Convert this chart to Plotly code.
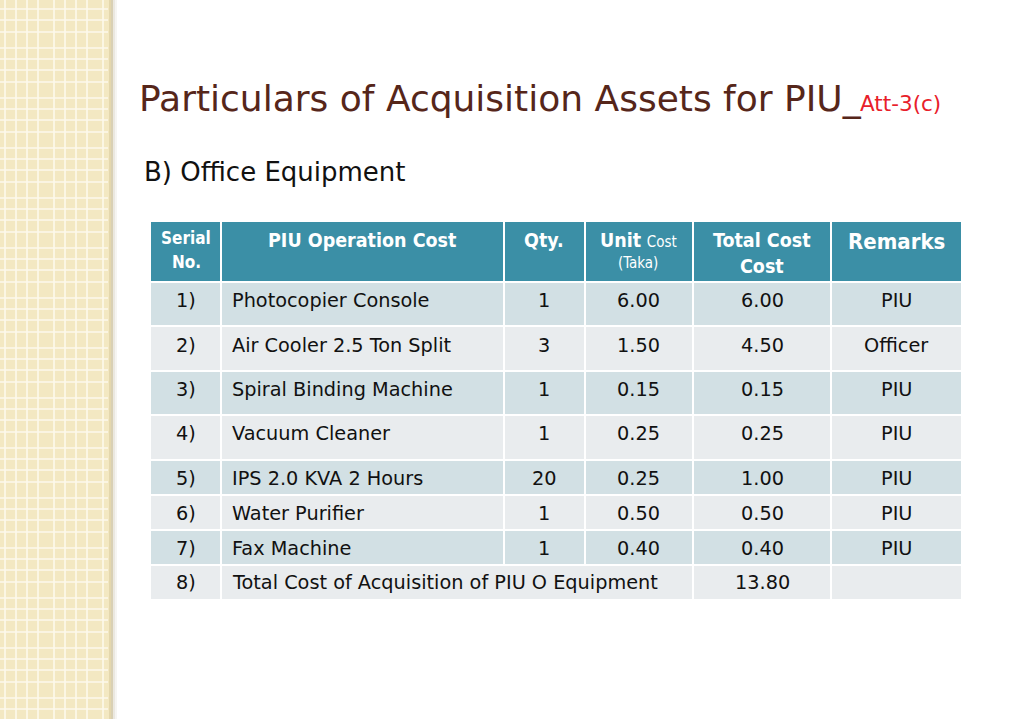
import plotly.graph_objects as go

# ---------------- data ----------------
title_main = "Particulars of Acquisition Assets for PIU_"
title_suffix = "Att-3(c)"
subtitle = "B) Office Equipment"

serials = ["1)", "2)", "3)", "4)", "5)", "6)", "7)", "8)"]
items = ["Photocopier Console", "Air Cooler 2.5 Ton Split", "Spiral Binding Machine",
         "Vacuum Cleaner", "IPS 2.0 KVA 2 Hours", "Water Purifier", "Fax Machine"]
total_label = "Total Cost of Acquisition of PIU O Equipment"
qty = [1, 3, 1, 1, 20, 1, 1]
unit_cost = [6.00, 1.50, 0.15, 0.25, 0.25, 0.50, 0.40]
total_cost = [6.00, 4.50, 0.15, 0.25, 1.00, 0.50, 0.40]
remarks = ["PIU", "Officer", "PIU", "PIU", "PIU", "PIU", "PIU"]
grand_total = 13.80

# ---------------- layout geometry (pixels) ----------------
W, H = 1024, 719
col_edges = [151, 221, 504, 585, 693, 831, 961]
row_edges = [222, 282, 326, 371, 415, 460, 495, 530, 565, 599]
text_y = [300, 345, 389, 433, 478, 513, 548, 582]
header_col = "#3b8fa6"
odd_col = "#d2e0e4"
even_col = "#e9ecee"
FONT = "DejaVu Sans, Tahoma, sans-serif"
FONT_C = "DejaVu Sans Condensed, Tahoma, sans-serif"

fig = go.Figure()
shapes = []
ann = []

# ---- left decorative strip ----
shapes.append(dict(type="rect", x0=0, x1=109, y0=0, y1=H, fillcolor="#f3e8c2",
                   line=dict(width=0), layer="below"))
for a, c in [(109, "#e4d7ad"), (111, "#d9d0b4"), (113, "#ebe8e0"), (115, "#f6f5f2")]:
    shapes.append(dict(type="rect", x0=a, x1=a + 2, y0=0, y1=H, fillcolor=c,
                       line=dict(width=0), layer="below"))
for base in range(-50, H + 50, 50):
    for off in (9, 20, 32, 48):
        y = base + off
        if 0 <= y <= H:
            shapes.append(dict(type="line", x0=0, x1=108, y0=y, y1=y,
                               line=dict(color="#fdf9ec", width=1.6)))
for base in range(-49, 120, 49):
    for off in (16, 27, 38, 54):
        x = base + off
        if 0 <= x <= 106:
            shapes.append(dict(type="line", x0=x, x1=x, y0=0, y1=H,
                               line=dict(color="#fdf9ec", width=1.6)))

# ---- titles ----
ann.append(dict(x=137, y=98, text=title_main, xanchor="left", yanchor="middle",
                showarrow=False, font=dict(family=FONT, size=36, color="#56261a")))
ann.append(dict(x=858, y=103, text=title_suffix, xanchor="left", yanchor="middle",
                showarrow=False, font=dict(family=FONT, size=21.5, color="#e8202a")))
ann.append(dict(x=142, y=172, text=subtitle, xanchor="left", yanchor="middle",
                showarrow=False, font=dict(family=FONT, size=26, color="#111111")))

# ---- table backgrounds ----
shapes.append(dict(type="rect", x0=col_edges[0], x1=col_edges[-1], y0=row_edges[0], y1=row_edges[1],
                   fillcolor=header_col, line=dict(width=0)))
for r in range(8):
    shapes.append(dict(type="rect", x0=col_edges[0], x1=col_edges[-1],
                       y0=row_edges[r + 1], y1=row_edges[r + 2],
                       fillcolor=odd_col if r % 2 == 0 else even_col, line=dict(width=0)))
for y in row_edges[1:-1]:
    shapes.append(dict(type="line", x0=col_edges[0], x1=col_edges[-1], y0=y, y1=y,
                       line=dict(color="white", width=2)))
for ci, x in enumerate(col_edges[1:-1]):
    for r in range(9):
        if r == 8 and ci in (1, 2):
            continue  # merged cell in the total row
        shapes.append(dict(type="line", x0=x, x1=x, y0=row_edges[r], y1=row_edges[r + 1],
                           line=dict(color="white", width=2)))

# ---- header text ----
hw = dict(color="white", family=FONT_C)
def hdr(x, y, text, size):
    ann.append(dict(x=x, y=y, text=f"<b>{text}</b>", xanchor="center", yanchor="middle",
                    showarrow=False, font=dict(size=size, **hw)))
hdr(186, 238, "Serial", 17)
hdr(186, 262, "No.", 17)
hdr(362, 240, "PIU Operation Cost", 19.5)
hdr(544, 240, "Qty.", 19.5)
ann.append(dict(x=638, y=240, text="<b>Unit</b> <span style='font-size:15px'>Cost</span>",
                xanchor="center", yanchor="middle", showarrow=False, font=dict(size=19.5, **hw)))
ann.append(dict(x=638, y=263, text="(Taka)", xanchor="center", yanchor="middle",
                showarrow=False, font=dict(size=15, **hw)))
hdr(762, 240, "Total Cost", 19.5)
hdr(762, 266, "Cost", 19.5)
hdr(896, 241, "Remarks", 22)

# ---- body text ----
body = dict(family=FONT, size=19.3, color="#111111")
for r in range(8):
    yc = text_y[r]
    ann.append(dict(x=186, y=yc, text=serials[r], xanchor="center", yanchor="middle",
                    showarrow=False, font=body))
    if r < 7:
        ann.append(dict(x=230, y=yc, text=items[r], xanchor="left", yanchor="middle",
                        showarrow=False, font=body))
        ann.append(dict(x=544, y=yc, text=str(qty[r]), xanchor="center", yanchor="middle",
                        showarrow=False, font=body))
        ann.append(dict(x=638, y=yc, text=f"{unit_cost[r]:.2f}", xanchor="center", yanchor="middle",
                        showarrow=False, font=body))
        ann.append(dict(x=762, y=yc, text=f"{total_cost[r]:.2f}", xanchor="center", yanchor="middle",
                        showarrow=False, font=body))
        ann.append(dict(x=896, y=yc, text=remarks[r], xanchor="center", yanchor="middle",
                        showarrow=False, font=body))
    else:
        ann.append(dict(x=230, y=yc, text=total_label, xanchor="left", yanchor="middle",
                        showarrow=False, font=body))
        ann.append(dict(x=762, y=yc, text=f"{grand_total:.2f}", xanchor="center", yanchor="middle",
                        showarrow=False, font=body))

for a in ann:
    a["xref"] = "x"
    a["yref"] = "y"
for s in shapes:
    s["xref"] = "x"
    s["yref"] = "y"

fig.update_layout(
    width=W, height=H, margin=dict(l=0, r=0, t=0, b=0),
    paper_bgcolor="white", plot_bgcolor="white",
    xaxis=dict(range=[0, W], visible=False, fixedrange=True),
    yaxis=dict(range=[H, 0], visible=False, fixedrange=True),
    shapes=shapes, annotations=ann, showlegend=False,
)
fig.write_html("out.html", config={"displayModeBar": False},
               post_script="document.body.style.margin='0px';document.body.style.overflow='hidden';")
